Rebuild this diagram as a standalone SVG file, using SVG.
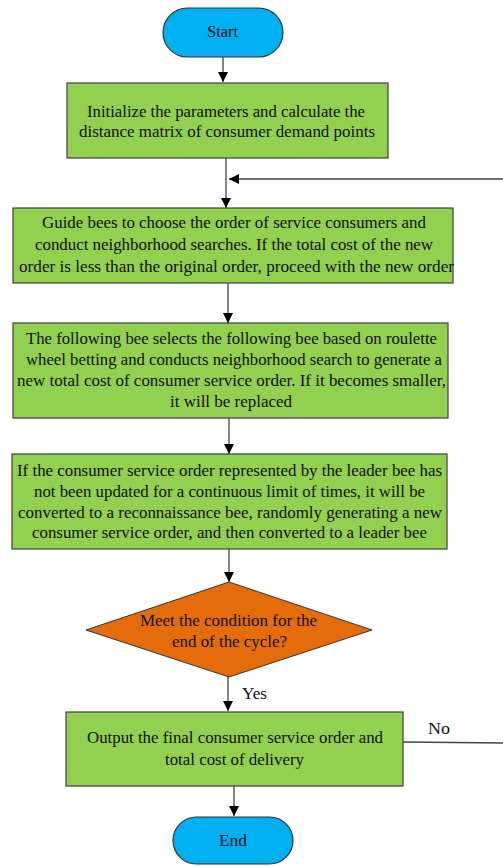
<svg xmlns="http://www.w3.org/2000/svg" width="503" height="866" viewBox="0 0 503 866">
<defs>
<marker id="ah" viewBox="0 0 10 10" refX="10" refY="5" markerWidth="10" markerHeight="10" markerUnits="userSpaceOnUse" orient="auto">
<path d="M0,0 L10,5 L0,10 Z" fill="#000"/>
</marker>
<style>
.box{fill:#92D050;stroke:#3f3f3f;stroke-width:1.2}
.term{fill:#00B0F0;stroke:#333;stroke-width:1.2}
.dec{fill:#E46C0A;stroke:#333;stroke-width:1}
text{font-size:16px;fill:#111;text-anchor:middle}
.c{stroke:#444;stroke-width:1.3;fill:none}
.ca{stroke:#444;stroke-width:1.3;fill:none;marker-end:url(#ah)}
</style>
</defs>
<rect width="503" height="866" fill="#fff"/>
<g font-family="Liberation Serif, DejaVu Serif, serif">
<g id="connectors">
<line class="ca" x1="223" y1="57" x2="223" y2="82"/>
<line class="ca" x1="226" y1="158" x2="226" y2="208"/>
<line class="ca" x1="503" y1="179" x2="229" y2="179"/>
<line class="ca" x1="228" y1="283" x2="228" y2="323"/>
<line class="ca" x1="229" y1="418" x2="229" y2="454"/>
<line class="ca" x1="229" y1="549" x2="229" y2="582"/>
<line class="ca" x1="228" y1="677" x2="228" y2="711"/>
<line class="c" x1="403" y1="742" x2="503" y2="743"/>
<line class="ca" x1="234" y1="786" x2="234" y2="816"/>
<text x="254.5" y="699" textLength="25" lengthAdjust="spacingAndGlyphs">Yes</text>
<text x="439" y="734" textLength="22" lengthAdjust="spacingAndGlyphs">No</text>
</g>
<g id="start">
<rect class="term" x="163" y="8" width="120" height="49" rx="24.5"/>
<text x="222.5" y="37" textLength="31" lengthAdjust="spacingAndGlyphs">Start</text>
</g>
<g id="init">
<rect class="box" x="67" y="83" width="321" height="75"/>
<text x="226" y="117" textLength="278" lengthAdjust="spacingAndGlyphs">Initialize the parameters and calculate the</text>
<text x="227" y="137" textLength="296" lengthAdjust="spacingAndGlyphs">distance matrix of consumer demand points</text>
</g>
<g id="guide">
<rect class="box" x="13" y="208" width="440" height="75"/>
<text x="234" y="228" textLength="384" lengthAdjust="spacingAndGlyphs">Guide bees to choose the order of service consumers and</text>
<text x="234" y="250" textLength="398" lengthAdjust="spacingAndGlyphs">conduct neighborhood searches. If the total cost of the new</text>
<text x="236.5" y="272" textLength="435" lengthAdjust="spacingAndGlyphs">order is less than the original order, proceed with the new order</text>
</g>
<g id="follow">
<rect class="box" x="13" y="323" width="435" height="95"/>
<text x="231.5" y="344" textLength="411" lengthAdjust="spacingAndGlyphs">The following bee selects the following bee based on roulette</text>
<text x="234" y="365" textLength="416" lengthAdjust="spacingAndGlyphs">wheel betting and conducts neighborhood search to generate a</text>
<text x="231.5" y="386" textLength="429" lengthAdjust="spacingAndGlyphs">new total cost of consumer service order. If it becomes smaller,</text>
<text x="231" y="407" textLength="122" lengthAdjust="spacingAndGlyphs">it will be replaced</text>
</g>
<g id="scout">
<rect class="box" x="12" y="454" width="435" height="95"/>
<text x="229.5" y="476" textLength="425" lengthAdjust="spacingAndGlyphs">If the consumer service order represented by the leader bee has</text>
<text x="229.5" y="497" textLength="391" lengthAdjust="spacingAndGlyphs">not been updated for a continuous limit of times, it will be</text>
<text x="230" y="518" textLength="424" lengthAdjust="spacingAndGlyphs">converted to a reconnaissance bee, randomly generating a new</text>
<text x="229.5" y="538" textLength="395" lengthAdjust="spacingAndGlyphs">consumer service order, and then converted to a leader bee</text>
</g>
<g id="cond">
<polygon class="dec" points="229,582 372,630 229,677 86,630"/>
<text x="228.5" y="626" textLength="177" lengthAdjust="spacingAndGlyphs">Meet the condition for the</text>
<text x="229.5" y="647" textLength="115" lengthAdjust="spacingAndGlyphs">end of the cycle?</text>
</g>
<g id="output">
<rect class="box" x="66" y="712" width="337" height="74"/>
<text x="235" y="743" textLength="296" lengthAdjust="spacingAndGlyphs">Output the final consumer service order and</text>
<text x="234.5" y="765" textLength="139" lengthAdjust="spacingAndGlyphs">total cost of delivery</text>
</g>
<g id="end">
<rect class="term" x="173" y="817" width="120" height="47" rx="23.5"/>
<text x="233" y="846" textLength="28" lengthAdjust="spacingAndGlyphs">End</text>
</g>
</g>
</svg>
